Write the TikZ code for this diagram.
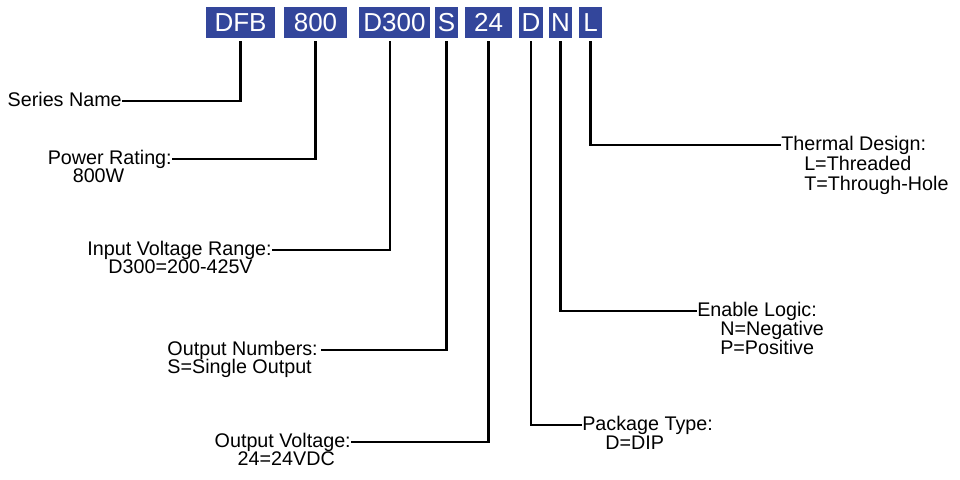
\documentclass[tikz,border=0pt]{standalone}
\usepackage{fontspec}
\setmainfont{Liberation Sans}
\usepackage{tikz}
\usetikzlibrary{positioning}
\definecolor{codeblue}{RGB}{51,70,155}
\tikzset{
  codebox/.style={fill=codeblue, text=white, inner sep=0pt, minimum height=23.25pt, text height=13.8pt, text depth=0pt, font=\fontsize{19.5}{19.5}\selectfont},
  lbl/.style={inner sep=0pt, text height=10.6pt, text depth=3.1pt, font=\fontsize{14.8}{14.8}\selectfont},
  lead/.style={line width=2pt, shorten <=2.2pt}
}

\begin{document}
\begin{tikzpicture}[x=0.75pt, y=-0.75pt]
  \useasboundingbox (0,0) rectangle (960,479);
  % code boxes
  \node[codebox, minimum width=51.75pt] (dfb) at (240.5,22.5) {DFB};
  \node[codebox, minimum width=47.25pt] (pwr) at (315.5,22.5) {800};
  \node[codebox, minimum width=53.25pt] (vin) at (394.5,22.5) {D300};
  \node[codebox, minimum width=17.25pt] (num) at (446.5,22.5) {S};
  \node[codebox, minimum width=35.25pt] (vout) at (488.5,22.5) {24};
  \node[codebox, minimum width=18pt] (pkg) at (531,22.5) {D};
  \node[codebox, minimum width=17.25pt] (enl) at (560.5,22.5) {N};
  \node[codebox, minimum width=17.25pt] (thm) at (590.5,22.5) {L};

  % left labels
  \node[lbl, anchor=east] (dfbtxt) at (122,101) {Series Name};
  \node[lbl, anchor=east] (pwrtxt) at (172,159) {Power Rating:};
  \node[lbl, below=0pt of pwrtxt.south west, anchor=north west, xshift=18.75pt] (pwrval) {800W};
  \node[lbl, anchor=east] (vintxt) at (272,250) {Input Voltage Range:};
  \node[lbl, below=0pt of vintxt.south west, anchor=north west, xshift=15.75pt] (vinval) {D300=200-425V};
  \node[lbl, anchor=east] (numtxt) at (318,350) {Output Numbers:};
  \node[lbl, below=0pt of numtxt.south west, anchor=north west] (numval) {S=Single Output};
  \node[lbl, anchor=east] (vouttxt) at (351,442) {Output Voltage:};
  \node[lbl, below=0pt of vouttxt.south west, anchor=north west, xshift=17.25pt] (voutval) {24=24VDC};

  % right labels
  \node[lbl, anchor=west] (pkgtxt) at (582,425) {Package Type:};
  \node[lbl, below=0.5pt of pkgtxt.south west, anchor=north west, xshift=17.25pt] (pkgval) {D=DIP};
  \node[lbl, anchor=west] (enltxt) at (697,311) {Enable Logic:};
  \node[lbl, below=0.5pt of enltxt.south west, anchor=north west, xshift=17.25pt] (enlneg) {N=Negative};
  \node[lbl, below=0.5pt of enlneg.south west, anchor=north west] (enlpos) {P=Positive};
  \node[lbl, anchor=west] (thmtxt) at (781,145) {Thermal Design:};
  \node[lbl, below=1.2pt of thmtxt.south west, anchor=north west, xshift=17.25pt] (thmthr) {L=Threaded};
  \node[lbl, below=1.2pt of thmthr.south west, anchor=north west] (thmhole) {T=Through-Hole};

  % leader lines
  \draw[lead] (dfb.south) |- (dfbtxt.east);
  \draw[lead] (pwr.south) |- (pwrtxt.east);
  \draw[lead] ([xshift=-3.4pt]vin.south) |- (vintxt.east);
  \draw[lead] (num.south) |- ([xshift=2pt]numtxt.east);
  \draw[lead] (vout.south) |- (vouttxt.east);
  \draw[lead] (pkg.south) |- (pkgtxt.west);
  \draw[lead] (enl.south) |- (enltxt.west);
  \draw[lead] (thm.south) |- (thmtxt.west);
\end{tikzpicture}
\end{document}
